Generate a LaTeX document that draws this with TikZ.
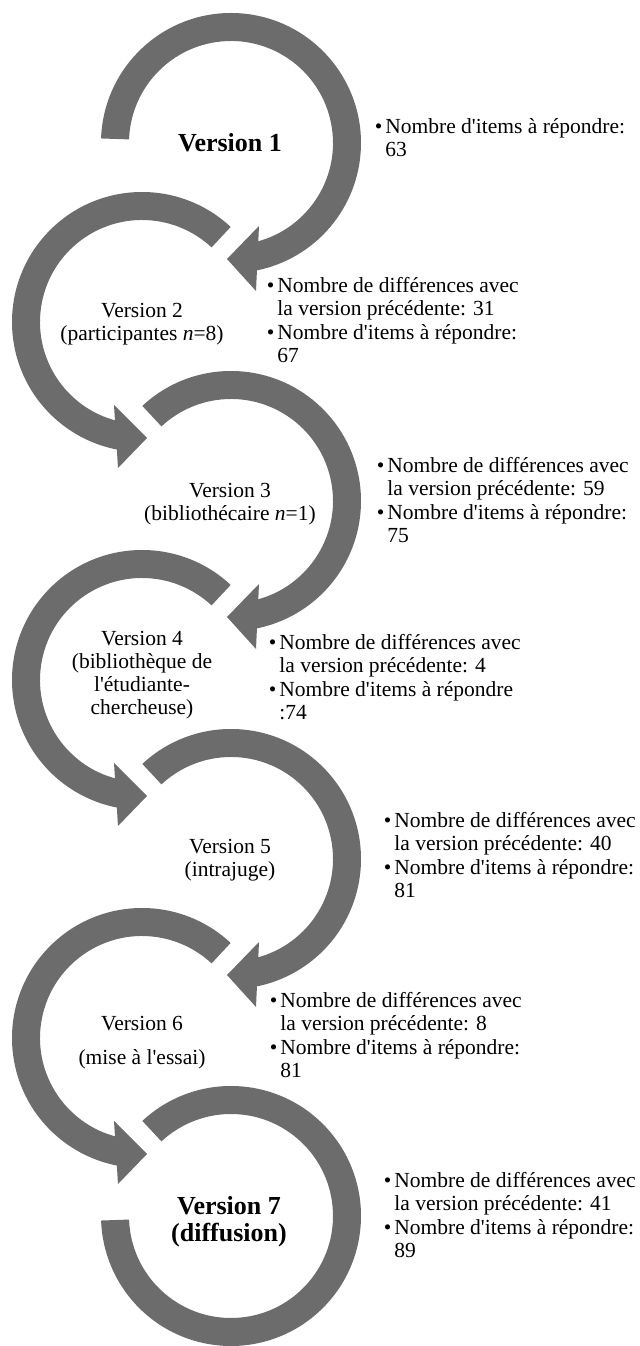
\documentclass[tikz,border=0pt]{standalone}
\usepackage{fontspec}
\setmainfont{Liberation Serif}
\definecolor{ringgray}{RGB}{108,108,108}
\newcommand{\ap}{\textquotesingle}
\newcommand{\bul}{\textbullet}
\tikzset{
  ringfill/.style={fill=ringgray},
  vlabel/.style={anchor=base, inner sep=0pt, font=\fontsize{10.75}{11.5}\selectfont},
  vtitle/.style={anchor=base, inner sep=0pt, font=\fontsize{13}{13}\selectfont\bfseries},
  infotext/.style={anchor=base west, inner sep=0pt, font=\fontsize{10.75}{11.25}\selectfont},
}
\begin{document}
\begin{tikzpicture}[x=0.5pt,y=0.5pt]
\useasboundingbox (0,0) rectangle (639,1346);

% ring 1, clockwise, flat start on the left
\begin{scope}[shift={(231,1203)}]
\fill[ringfill] (178:130) arc[start angle=178, end angle=-79, radius=130] -- (-79:102) arc[start angle=-79, end angle=178, radius=102] -- cycle;
\fill[ringfill] (28,-83) -- (-4,-116) -- (25,-148) -- cycle;
\end{scope}

% ring 2, counterclockwise
\begin{scope}[shift={(142,1024)}]
\fill[ringfill] (47:130) arc[start angle=47, end angle=259, radius=130] -- (259:102) arc[start angle=259, end angle=47, radius=102] -- cycle;
\fill[ringfill] (-28,-83) -- (5,-116) -- (-24,-146) -- cycle;
\end{scope}

% ring 3, clockwise
\begin{scope}[shift={(231,845)}]
\fill[ringfill] (133:130) arc[start angle=133, end angle=-79, radius=130] -- (-79:102) arc[start angle=-79, end angle=133, radius=102] -- cycle;
\fill[ringfill] (28,-83) -- (-4,-116) -- (25,-148) -- cycle;
\end{scope}

% ring 4, counterclockwise
\begin{scope}[shift={(142,666)}]
\fill[ringfill] (47:130) arc[start angle=47, end angle=259, radius=130] -- (259:102) arc[start angle=259, end angle=47, radius=102] -- cycle;
\fill[ringfill] (-28,-83) -- (5,-116) -- (-24,-146) -- cycle;
\end{scope}

% ring 5, clockwise
\begin{scope}[shift={(231,487)}]
\fill[ringfill] (133:130) arc[start angle=133, end angle=-79, radius=130] -- (-79:102) arc[start angle=-79, end angle=133, radius=102] -- cycle;
\fill[ringfill] (28,-83) -- (-4,-116) -- (25,-148) -- cycle;
\end{scope}

% ring 6, counterclockwise
\begin{scope}[shift={(142,308)}]
\fill[ringfill] (47:130) arc[start angle=47, end angle=259, radius=130] -- (259:102) arc[start angle=259, end angle=47, radius=102] -- cycle;
\fill[ringfill] (-28,-83) -- (5,-116) -- (-24,-146) -- cycle;
\end{scope}

% ring 7, no head, flat end on the left
\begin{scope}[shift={(231,130)}]
\fill[ringfill] (133:130) arc[start angle=133, end angle=-178, radius=130] -- (-178:102) arc[start angle=-178, end angle=133, radius=102] -- cycle;
\end{scope}

% version labels
\node[vtitle] (v1) at (230,1194) {Version 1};
\node[vlabel] (v2) at (142,1028) {\begin{tabular}[t]{@{}c@{}}Version 2\\(participantes \textit{n}=8)\end{tabular}};
\node[vlabel] (v3) at (230,848) {\begin{tabular}[t]{@{}c@{}}Version 3\\(bibliothécaire \textit{n}=1)\end{tabular}};
\node[vlabel] (v4) at (142,700) {\begin{tabular}[t]{@{}c@{}}Version 4\\(bibliothèque de\\l\ap étudiante-\\chercheuse)\end{tabular}};
\node[vlabel] (v5) at (230,492) {\begin{tabular}[t]{@{}c@{}}Version 5\\(intrajuge)\end{tabular}};
\node[vlabel] (v6) at (142,315) {\begin{tabular}[t]{@{}c@{}}Version 6\\[5.25pt](mise à l\ap essai)\end{tabular}};
\node[vtitle] (v7) at (229,131) {\begin{tabular}[t]{@{}c@{}}Version 7\\(diffusion)\end{tabular}};

% bullet texts
\node[infotext] (info1) at (374.5,1212) {\begin{tabular}[t]{@{}l@{\hspace{1.5pt}}l@{}}\bul & Nombre d\ap items à répondre:\\ & 63\end{tabular}};
\node[infotext] (info2) at (266.5,1053) {\begin{tabular}[t]{@{}l@{\hspace{1.5pt}}l@{}}\bul & Nombre de différences avec\\ & la version précédente: 31\\[1pt]\bul & Nombre d\ap items à répondre:\\ & 67\end{tabular}};
\node[infotext] (info3) at (376.5,873) {\begin{tabular}[t]{@{}l@{\hspace{1.5pt}}l@{}}\bul & Nombre de différences avec\\ & la version précédente: 59\\[1pt]\bul & Nombre d\ap items à répondre:\\ & 75\end{tabular}};
\node[infotext] (info4) at (268.5,696) {\begin{tabular}[t]{@{}l@{\hspace{1.5pt}}l@{}}\bul & Nombre de différences avec\\ & la version précédente: 4\\[1pt]\bul & Nombre d\ap items à répondre\\ & :74\end{tabular}};
\node[infotext] (info5) at (383.5,518) {\begin{tabular}[t]{@{}l@{\hspace{1.5pt}}l@{}}\bul & Nombre de différences avec\\ & la version précédente: 40\\[1pt]\bul & Nombre d\ap items à répondre:\\ & 81\end{tabular}};
\node[infotext] (info6) at (269.5,338) {\begin{tabular}[t]{@{}l@{\hspace{1.5pt}}l@{}}\bul & Nombre de différences avec\\ & la version précédente: 8\\[1pt]\bul & Nombre d\ap items à répondre:\\ & 81\end{tabular}};
\node[infotext] (info7) at (383.5,158) {\begin{tabular}[t]{@{}l@{\hspace{1.5pt}}l@{}}\bul & Nombre de différences avec\\ & la version précédente: 41\\[1pt]\bul & Nombre d\ap items à répondre:\\ & 89\end{tabular}};

\end{tikzpicture}
\end{document}
